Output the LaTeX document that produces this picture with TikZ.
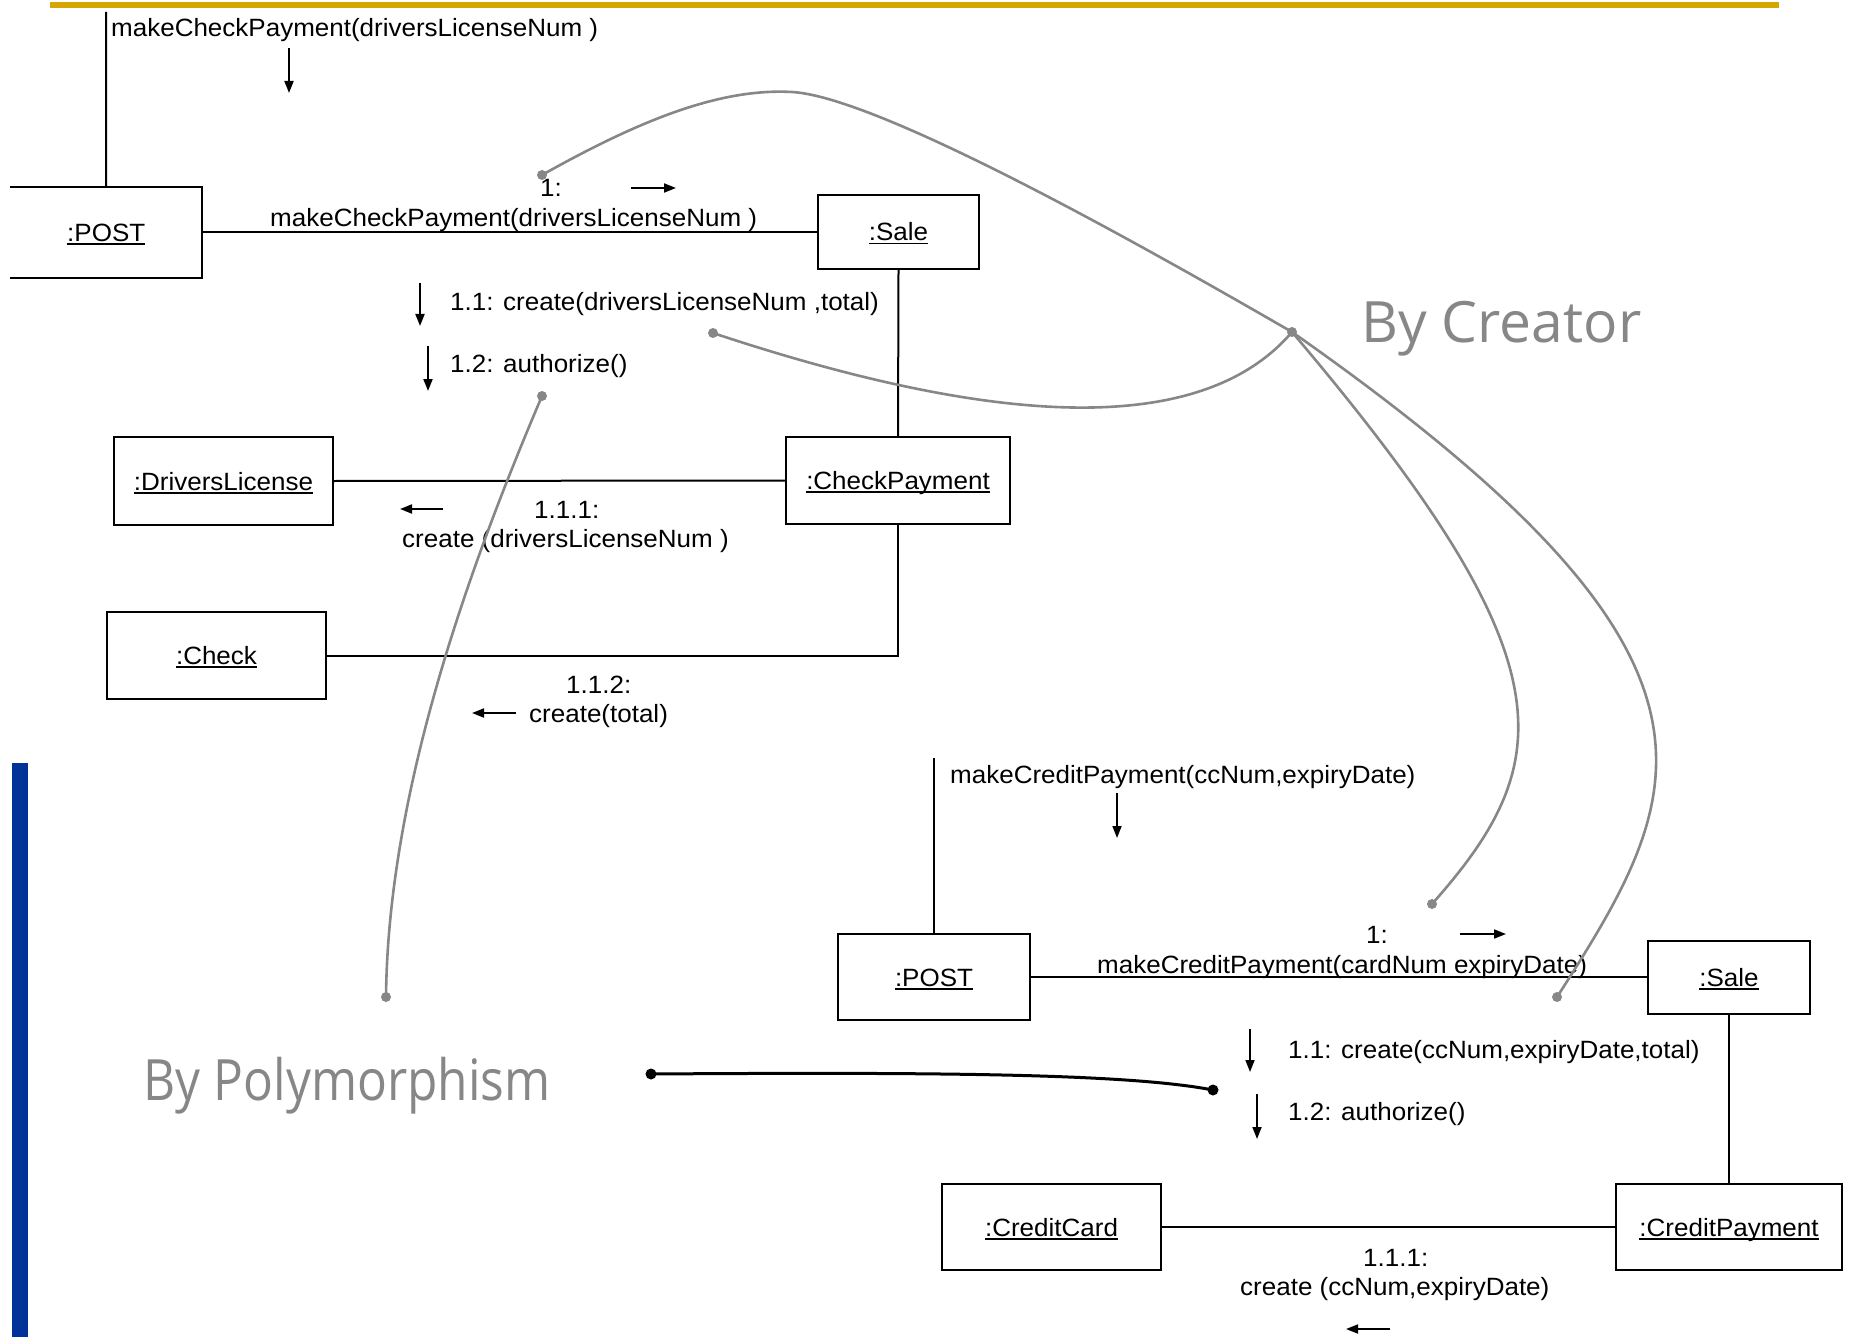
\documentclass[tikz,border=0pt]{standalone}
\usepackage{fontspec}
\usepackage{graphicx}
\usetikzlibrary{arrows.meta}
\newfontfamily\umlfont[FakeStretch=1.04]{Liberation Sans}
\newfontfamily\notefont{Open Sans}
\definecolor{slidegold}{RGB}{212,168,0}
\definecolor{slideblue}{RGB}{0,51,153}
\definecolor{notegray}{RGB}{135,135,135}
% underlined object name with a rule that scales with the big font
\newcommand{\objname}[1]{\setbox0=\hbox{#1}\rlap{\rule[-3.5pt]{\wd0}{1.7pt}}\box0}

\begin{document}
\begin{tikzpicture}[x=1pt,y=-1pt,
  every node/.style={font=\umlfont\fontsize{25}{30}\selectfont},
  obj/.style={draw, line width=2.2pt, inner sep=0pt, text height=18pt, text depth=0pt},
  msgtext/.style={anchor=base west, inner sep=0pt},
  link/.style={line width=2pt},
  msg/.style={line width=1.8pt, -{Triangle[length=12pt,width=9pt]}},
  note/.style={draw=notegray, line width=2.6pt},
  notelabel/.style={anchor=base west, inner sep=0pt, text=notegray,
    font=\notefont\fontsize{57}{66}\selectfont},
]
\useasboundingbox (0,0) rectangle (1849,1337);

% slide decoration
\fill[slidegold] (50,2) rectangle (1779,8);
\fill[slideblue] (12,763) rectangle (28,1337);

% ---------- check payment collaboration ----------
\node[obj, draw=none, minimum width=189.5pt, minimum height=89pt] (post1) at (106.25,232.5) {\objname{:POST}};
\draw[line width=2.2pt] (post1.north west) -- (post1.north east) -- (post1.south east) -- (post1.south west);
\node[obj, minimum width=161pt, minimum height=74pt] (sale1) at (898.5,232) {\objname{:Sale}};
\node[obj, minimum width=224pt, minimum height=87pt] (cp) at (898,480.5) {\objname{:CheckPayment}};
\node[obj, minimum width=219pt, minimum height=88pt] (dl) at (223.5,481) {\objname{:DriversLicense}};
\node[obj, minimum width=219pt, minimum height=87pt] (check) at (216.5,655.5) {\objname{:Check}};

\coordinate (in1) at (106,12);
\draw[link] (in1) -- (post1.north);
\draw[link] (post1.east) -- (sale1.west |- post1.east);
\draw[link] (sale1.south) -- (cp.north);
\draw[link] (dl.east) -- (cp.west);
\draw[link] (check.east) -| (cp.south);

\node[msgtext] (m0) at (111,37) {makeCheckPayment(driversLicenseNum )};
\node[msgtext] (m1a) at (540,197) {1:};
\node[msgtext] (m1b) at (270,227) {makeCheckPayment(driversLicenseNum )};
\node[msgtext] (m11) at (450,311) {1.1: create(driversLicenseNum ,total)};
\node[msgtext] (m12) at (450,373) {1.2: authorize()};
\node[msgtext] (m111a) at (534,518) {1.1.1:};
\node[msgtext] (m111b) at (402,547) {create (driversLicenseNum )};
\node[msgtext] (m112a) at (566,693) {1.1.2:};
\node[msgtext] (m112b) at (529,722) {create(total)};

\draw[msg] (289,48) -- (289,93);
\draw[msg] (631,188) -- (676,188);
\draw[msg] (420,283) -- (420,326);
\draw[msg] (428,346) -- (428,391);
\draw[msg] (443,509) -- (400,509);
\draw[msg] (516,713) -- (472,713);

% ---------- credit payment collaboration ----------
\node[obj, minimum width=192pt, minimum height=86pt] (post2) at (934,977) {\objname{:POST}};
\node[obj, minimum width=162pt, minimum height=73pt] (sale2) at (1729,977.5) {\objname{:Sale}};
\node[obj, minimum width=219pt, minimum height=86pt] (cc) at (1051.5,1227) {\objname{:CreditCard}};
\node[obj, minimum width=226pt, minimum height=86pt] (cpay) at (1729,1227) {\objname{:CreditPayment}};

\coordinate (in2) at (934,758);
\draw[link] (in2) -- (post2.north);
\draw[link] (post2.east) -- (sale2.west |- post2.east);
\draw[link] (sale2.south) -- (cpay.north);
\draw[link] (cc.east) -- (cpay.west);

\node[msgtext] (n0) at (950,783) {makeCreditPayment(ccNum,expiryDate)};
\node[msgtext] (n1a) at (1366,943) {1:};
\node[msgtext] (n1b) at (1097,973) {makeCreditPayment(cardNum expiryDate)};
\node[msgtext] (n11) at (1288,1058) {1.1: create(ccNum,expiryDate,total)};
\node[msgtext] (n12) at (1288,1120) {1.2: authorize()};
\node[msgtext] (n111a) at (1363,1266) {1.1.1:};
\node[msgtext] (n111b) at (1240,1295) {create (ccNum,expiryDate)};

\draw[msg] (1117,793) -- (1117,838);
\draw[msg] (1460,934) -- (1506,934);
\draw[msg] (1250,1029) -- (1250,1072);
\draw[msg] (1257,1094) -- (1257,1139);
\draw[msg] (1390,1329) -- (1346,1329);

% ---------- pattern annotations ----------
\node[notelabel] (creator) at (1361,343) {By Creator};
\node[notelabel] (poly) at (143.5,1100) {\scalebox{0.87}[1]{By Polymorphism}};

\coordinate (j) at (1292,332);
\coordinate (c1) at (542,175);
\coordinate (c2) at (713,333);
\coordinate (c3) at (1432,904);
\coordinate (c4) at (1557,997);
\coordinate (p1) at (542,396);
\coordinate (p2) at (386,997);
\coordinate (q1) at (651,1074);
\coordinate (q2) at (1213,1090);

\draw[note] (c1) .. controls (640,120) and (720,88) .. (792,92)
                 .. controls (880,97) and (1150,250) .. (j);
\draw[note] (c2) .. controls (990,425) and (1200,440) .. (j);
\draw[note] (j) .. controls (1570,660) and (1560,760) .. (c3);
\draw[note] (j) .. controls (1760,660) and (1690,790) .. (c4);
\draw[note] (p1) .. controls (470,565) and (388,790) .. (p2);
\foreach \d in {j,c1,c2,c3,c4,p1,p2} \fill[notegray] (\d) circle (5pt);

\draw[line width=3pt] (q1) .. controls (950,1072) and (1130,1074) .. (q2);
\foreach \d in {q1,q2} \fill (\d) circle (5.5pt);
\end{tikzpicture}
\end{document}
